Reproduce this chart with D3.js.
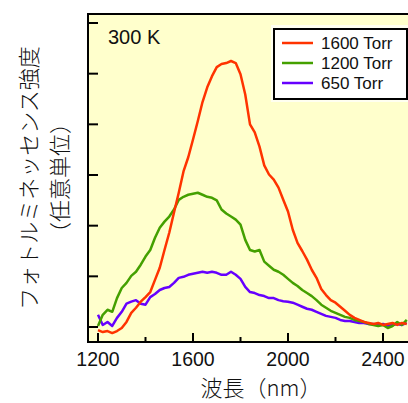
<!DOCTYPE html>
<html>
<head>
<meta charset="utf-8">
<script src="https://cdn.jsdelivr.net/npm/d3@7"></script>
<style>
  body { margin: 0; background: #fff; }
  svg { display: block; }
  text { font-family: "Liberation Sans", Arial, sans-serif; fill: #111; }
  .jp { font-family: "Noto Sans CJK JP", sans-serif; font-weight: 300; }
</style>
</head>
<body>
<svg id="chart" width="408" height="403"></svg>
<script>
// wavelength (nm), every 20 nm
const wavelength = d3.range(1200, 2501, 20);

// intensities (arb. units, one unit per y tick)
const torr1600 = [-0.06, -0.10, -0.08, -0.12, -0.08, -0.02, 0.10, 0.28, 0.38, 0.50,
  0.59, 0.69, 0.93, 1.17, 1.52, 1.86, 2.26, 2.65, 3.07, 3.35,
  3.70, 4.06, 4.44, 4.73, 4.95, 5.13, 5.19, 5.21, 5.25, 5.21,
  4.99, 4.59, 4.00, 3.84, 3.56, 3.19, 3.01, 2.91, 2.75, 2.51,
  2.28, 1.92, 1.66, 1.50, 1.33, 1.13, 0.97, 0.75, 0.63, 0.53,
  0.48, 0.40, 0.32, 0.24, 0.18, 0.14, 0.10, 0.08, 0.06, 0.08,
  0.04, 0.06, 0.08, 0.04, 0.08, 0.06];
const torr1200 = [0.02, 0.24, 0.34, 0.30, 0.57, 0.77, 0.87, 1.01, 1.09, 1.23,
  1.39, 1.52, 1.76, 1.96, 2.08, 2.18, 2.32, 2.51, 2.57, 2.61,
  2.63, 2.65, 2.61, 2.57, 2.55, 2.50, 2.32, 2.24, 2.18, 2.12,
  2.02, 1.72, 1.52, 1.49, 1.52, 1.29, 1.21, 1.13, 1.09, 1.03,
  0.95, 0.87, 0.81, 0.73, 0.67, 0.61, 0.53, 0.44, 0.38, 0.32,
  0.28, 0.24, 0.20, 0.18, 0.14, 0.12, 0.10, 0.06, 0.04, 0.02,
  0.04, -0.02, 0.02, 0.10, 0.04, 0.14];
const torr650 = [0.24, 0.04, 0.10, 0.02, 0.18, 0.30, 0.46, 0.50, 0.53, 0.46,
  0.44, 0.59, 0.65, 0.73, 0.77, 0.79, 0.87, 0.97, 0.99, 1.03,
  1.05, 1.07, 1.09, 1.07, 1.09, 1.07, 1.03, 1.03, 1.09, 1.03,
  0.95, 0.79, 0.69, 0.67, 0.63, 0.61, 0.57, 0.57, 0.53, 0.51,
  0.50, 0.48, 0.44, 0.40, 0.36, 0.34, 0.30, 0.26, 0.22, 0.20,
  0.18, 0.14, 0.12, 0.12, 0.10, 0.08, 0.08, 0.06, 0.06, 0.04,
  0.06, 0.02, 0.04, 0.06, 0.04, 0.08];

const seriesNames = ["1600 Torr", "1200 Torr", "650 Torr"];
const seriesColors = ["#ff3300", "#44a000", "#6600ff"];
const seriesValues = [torr1600, torr1200, torr650];

const xMajor = [1200, 1600, 2000, 2400];
const xMinor = [1400, 1800, 2200];
const yTicks = [0, 1, 2, 3, 4, 5, 6];

const svg = d3.select("#chart");
const plotL = 88, plotR = 410, plotT = 14, plotB = 342;

let x = d3.scaleLinear().domain([1200, 2400]).range([98, 383]);
let y = d3.scaleLinear().domain([0, 6]).range([327, 23]);

// plot background
svg.append("rect")
    .attr("x", plotL).attr("y", plotT)
    .attr("width", plotR - plotL).attr("height", plotB - plotT)
    .attr("fill", "#ffffcc");

svg.append("defs").append("clipPath").attr("id", "clip")
    .append("rect")
    .attr("x", plotL + 1).attr("y", plotT + 1)
    .attr("width", plotR - plotL).attr("height", plotB - plotT - 2);

// curves, drawn back to front
let line = d3.line()
    .x((d, i) => x(wavelength[i]))
    .y(d => y(d));

let order = [2, 1, 0];
svg.append("g").attr("clip-path", "url(#clip)")
    .selectAll("path").data(order).enter().append("path")
    .attr("d", i => line(seriesValues[i]))
    .attr("fill", "none")
    .attr("stroke", i => seriesColors[i])
    .attr("stroke-width", 2.5)
    .attr("stroke-linejoin", "round");

// frame
svg.append("path")
    .attr("d", `M${plotR},${plotT} H${plotL} V${plotB} H${plotR}`)
    .attr("fill", "none").attr("stroke", "#000").attr("stroke-width", 2);

// x ticks (pointing in)
let xAxis = svg.append("g");
xAxis.selectAll("line.major").data(xMajor).enter().append("line")
    .attr("class", "major")
    .attr("x1", d => x(d)).attr("x2", d => x(d))
    .attr("y1", plotB).attr("y2", plotB - 9)
    .attr("stroke", "#000").attr("stroke-width", 2);
xAxis.selectAll("line.minor").data(xMinor).enter().append("line")
    .attr("class", "minor")
    .attr("x1", d => x(d)).attr("x2", d => x(d))
    .attr("y1", plotB).attr("y2", plotB - 5)
    .attr("stroke", "#000").attr("stroke-width", 2);
xAxis.selectAll("text").data(xMajor).enter().append("text")
    .attr("x", d => x(d)).attr("y", 366)
    .attr("text-anchor", "middle")
    .style("font-size", "19.5px")
    .text(d => d);

// y ticks (no labels)
svg.append("g").selectAll("line").data(yTicks).enter().append("line")
    .attr("x1", plotL).attr("x2", plotL + 10)
    .attr("y1", d => y(d)).attr("y2", d => y(d))
    .attr("stroke", "#000").attr("stroke-width", 2);

// axis titles
svg.append("text").attr("class", "jp")
    .attr("x", 261).attr("y", 396)
    .attr("text-anchor", "middle")
    .style("font-size", "22px")
    .text("波長（nm）");

let yTitle = svg.append("g").attr("transform", "translate(0,178) rotate(-90)");
yTitle.append("text").attr("class", "jp")
    .attr("x", 0).attr("y", 27)
    .attr("text-anchor", "middle").attr("dominant-baseline", "central")
    .style("font-size", "22px")
    .text("フォトルミネッセンス強度");
yTitle.append("text").attr("class", "jp")
    .attr("x", 0).attr("y", 58)
    .attr("text-anchor", "middle").attr("dominant-baseline", "central")
    .style("font-size", "22px")
    .text("（任意単位）");

svg.append("text")
    .attr("x", 108).attr("y", 44)
    .style("font-size", "20px")
    .text("300 K");

// legend
let legend = svg.append("g");
legend.append("rect")
    .attr("x", 271).attr("y", 25).attr("width", 140).attr("height", 77)
    .attr("fill", "#fffff0");
legend.append("rect")
    .attr("x", 274).attr("y", 29).attr("width", 133).attr("height", 70)
    .attr("fill", "#fff").attr("stroke", "#000").attr("stroke-width", 2);
let entry = legend.selectAll("g.entry").data(seriesNames).enter().append("g")
    .attr("class", "entry")
    .attr("transform", (d, i) => `translate(0,${43 + i * 20})`);
entry.append("line")
    .attr("x1", 282).attr("x2", 313)
    .attr("stroke", (d, i) => seriesColors[i]).attr("stroke-width", 2.5);
entry.append("text")
    .attr("x", 321).attr("y", 6)
    .style("font-size", "17px")
    .text(d => d);
</script>
</body>
</html>
